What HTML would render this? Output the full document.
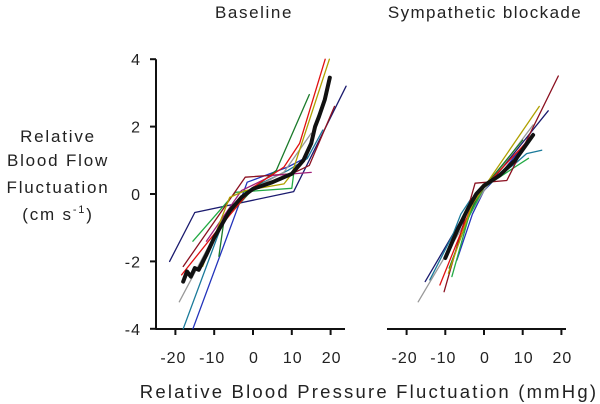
<!DOCTYPE html>
<html><head><meta charset="utf-8"><style>
html,body{margin:0;padding:0;background:#fff;}
svg{display:block;font-family:"Liberation Sans",Arial,sans-serif;}
</style></head><body>
<svg id="chart" width="600" height="404" viewBox="0 0 600 404">
<text x="254" y="18" font-size="17" letter-spacing="1.6" text-anchor="middle" fill="#222">Baseline</text>
<text x="485" y="18" font-size="17" letter-spacing="1.4" text-anchor="middle" fill="#222">Sympathetic blockade</text>
<g font-size="17" letter-spacing="1.8" text-anchor="middle" fill="#222">
<text x="58" y="142">Relative</text>
<text x="58" y="166">Blood Flow</text>
<text x="58" y="193">Fluctuation</text>
<text x="58" y="220">(cm s<tspan font-size="11" dy="-7">-1</tspan><tspan dy="7">)</tspan></text>
</g>
<text x="369" y="398" font-size="18.5" letter-spacing="2.2" text-anchor="middle" fill="#222">Relative Blood Pressure Fluctuation (mmHg)</text>
<g id="axes"></g>
<g id="series"></g>
</svg>
<script>
const yTicks=[4,2,0,-2,-4];
const xTicks=[-20,-10,0,10,20];
const colors=["#1a1a6e","#2233bb","#1a7a9a","#999999","#1a7a2a","#22aa44","#8b1020","#a0207a","#e01010","#b0a000"];
const baseNavy=[[-21.5,-2],[-15,-0.55],[10.5,0.07],[24,3.2]];
const baseBlue=[[-15.5,-4],[-1.5,0.35],[9,0.8],[14,1.1]];
const baseTeal=[[-18,-4],[-7,-0.6],[0,0.2],[9,0.7],[14,1.05],[18,1.9]];
const baseGray=[[-19,-3.2],[-8,-0.8],[0,0.15],[8,0.65],[15,1.8]];
const baseDarkGreen=[[-8.8,-1.85],[-7.5,-0.8],[0,0.15],[6,0.7],[14.5,2.95]];
const baseGreen=[[-15.5,-1.4],[-4.5,0.05],[10,0.17],[10.5,0.6],[12,0.9]];
const baseDarkRed=[[-18,-2.15],[-2,0.5],[10,0.6],[14.5,0.85],[21,2.6]];
const basePurple=[[-12,-1.4],[-3,0.1],[5,0.55],[15,0.64]];
const baseRed=[[-18.4,-2.4],[-8,-0.9],[0,0.2],[8,0.8],[12,1.5],[18.6,4]];
const baseOlive=[[-13,-2.15],[-6,-0.1],[-2,0.1],[8,0.3],[10,0.6],[19.7,4]];
const baseMean=[[-18,-2.6],[-17,-2.3],[-16,-2.45],[-15,-2.2],[-14,-2.25],[-12,-1.8],[-10,-1.3],[-6,-0.5],[-3,-0.1],[0,0.15],[5,0.35],[10,0.6],[13,1.0],[15,1.5],[16,2.0],[17,2.3],[18.5,2.8],[19.8,3.45]];
const blkNavy=[[-15.2,-2.6],[-5,-0.6],[0,0.1],[16.6,2.47]];
const blkBlue=[[-7,-1.96],[-3,-0.6],[0,0.1],[5,0.7],[12.7,1.8]];
const blkTeal=[[-14,-2.55],[-8,-1.2],[-6,-0.6],[-3.6,-0.18],[0,0.2],[8,0.9],[11,1.2],[14.9,1.3]];
const blkGray=[[-17,-3.2],[0,0.1],[12.7,2.05]];
const blkDarkGreen=[[-9,-2.2],[-3,-0.4],[0,0.2],[10,1.6]];
const blkGreen=[[-8.3,-2.45],[-4,-0.7],[0,0.2],[8,0.8],[11.5,1.06]];
const blkDarkRed=[[-10.3,-2.9],[-2.3,0.32],[5.9,0.4],[7.2,0.7],[19.2,3.5]];
const blkRed=[[-11.4,-2.7],[-3,-0.3],[0,0.2],[11.5,1.6]];
const blkOlive=[[-9.2,-2.35],[-3,-0.3],[0,0.2],[14.3,2.6]];
const blkMean=[[-10,-1.9],[-7,-1.1],[-4,-0.4],[-2,0],[0,0.25],[4,0.55],[8,1.0],[12.7,1.75]];
const baseSeries=[baseNavy,baseBlue,baseTeal,baseGray,baseDarkGreen,baseGreen,baseDarkRed,basePurple,baseRed,baseOlive];
const blkSeries=[blkNavy,blkBlue,blkTeal,blkGray,blkDarkGreen,blkGreen,blkDarkRed,blkRed,blkOlive];
const blkColors=[colors[0],colors[1],colors[2],colors[3],colors[4],colors[5],colors[6],colors[8],colors[9]];
const NS="http://www.w3.org/2000/svg";
function yS(v){return 194-v*33.7;}
function xL(v){return 253+v*3.88;}
function xR(v){return 484+v*3.87;}
const axes=document.getElementById('axes'),ser=document.getElementById('series');
function line(p,x1,y1,x2,y2,w){const l=document.createElementNS(NS,'line');l.setAttribute('x1',x1);l.setAttribute('y1',y1);l.setAttribute('x2',x2);l.setAttribute('y2',y2);l.setAttribute('stroke','#111');l.setAttribute('stroke-width',w);p.appendChild(l);return l;}
function txt(p,x,y,s,a){const t=document.createElementNS(NS,'text');t.setAttribute('x',x);t.setAttribute('y',y);t.setAttribute('font-size','16');t.setAttribute('letter-spacing','1');t.setAttribute('fill','#222');t.setAttribute('text-anchor',a);t.textContent=s;p.appendChild(t);return t;}
let ya=line(axes,156,yS(4),156,yS(-4)+1,2);


let xa=line(axes,156,329,345,329,2);


let xb=line(axes,387,329,566,329,2);


yTicks.forEach(v=>{line(axes,150,yS(v),156,yS(v),2);
const t=txt(axes,141,yS(v)+6,String(v),'end');

});
xTicks.forEach(v=>{line(axes,xL(v),329,xL(v),335,2);line(axes,xR(v),329,xR(v),335,2);
const a=txt(axes,xL(v)-(v<0?3:0)+1,363,String(v),'middle');


const b=txt(axes,xR(v)-(v<0?3:0)+1,363,String(v),'middle');

});
function draw(pts,xf,col,w,name){const p=document.createElementNS(NS,'polyline');
p.setAttribute('points',pts.map(q=>xf(q[0]).toFixed(1)+','+yS(q[1]).toFixed(1)).join(' '));
p.setAttribute('fill','none');p.setAttribute('stroke',col);p.setAttribute('stroke-width',w);p.setAttribute('stroke-linejoin','round');p.setAttribute('stroke-linecap','round');


ser.appendChild(p);}
baseSeries.forEach((s,i)=>draw(s,xL,colors[i],1.3,'baseline-subject-line'));
draw(baseMean,xL,'#111',4,'baseline-mean-line');
blkSeries.forEach((s,i)=>draw(s,xR,blkColors[i],1.3,'blockade-subject-line'));
draw(blkMean,xR,'#111',4,'blockade-mean-line');
</script>
</body></html>
